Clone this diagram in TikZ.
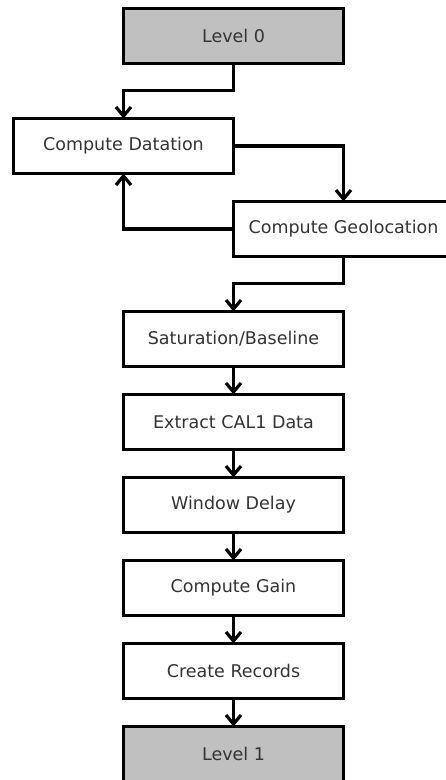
\documentclass[tikz,border=0pt]{standalone}
\usepackage{fontspec}
\setmainfont{DejaVu Sans}
\usetikzlibrary{arrows.meta}
\usetikzlibrary{positioning}

\definecolor{lvlgray}{RGB}{192,192,192}
\tikzset{
    stepbox/.style={draw, line width=3.2pt, minimum width=220pt, minimum height=55pt, inner sep=0pt, outer sep=0pt, text=black!80, font=\fontsize{17.5}{20}\selectfont},
    levelbox/.style={stepbox, fill=lvlgray},
    flow/.style={line width=3.2pt, -{Straight Barb[length=9pt,width=15pt]}}
}

\begin{document}
\begin{tikzpicture}[x=1pt, y=-1pt]
        \useasboundingbox (0, 0) rectangle (446, 780);
        \node[levelbox] (lvl0) at (233.5, 36) {Level 0};
        \node[stepbox] (dat) at (123.5, 146) {Compute Datation};
        \node[stepbox] (geo) at (343.5, 229) {Compute Geolocation};
        \node[stepbox] (sat) at (233.5, 339) {Saturation/Baseline};
        \node[stepbox, below=28pt of sat] (ext) {Extract CAL1 Data};
        \node[stepbox, below=28pt of ext] (win) {Window Delay};
        \node[stepbox, below=28pt of win] (gain) {Compute Gain};
        \node[stepbox, below=28pt of gain] (rec) {Create Records};
        \node[levelbox, below=28pt of rec] (lvl1) {Level 1};

        \draw[flow] (lvl0.south) -- ++(0, 27) -| (dat.north);
        \draw[flow] (dat.east) -| (geo.north);
        \draw[flow] (geo.west) -| (dat.south);
        \draw[flow] (geo.south) -- ++(0, 27) -| (sat.north);
        \foreach \a/\b in {sat/ext, ext/win, win/gain, gain/rec, rec/lvl1}
            \draw[flow] (\a) -- (\b);
    \end{tikzpicture}
\end{document}
